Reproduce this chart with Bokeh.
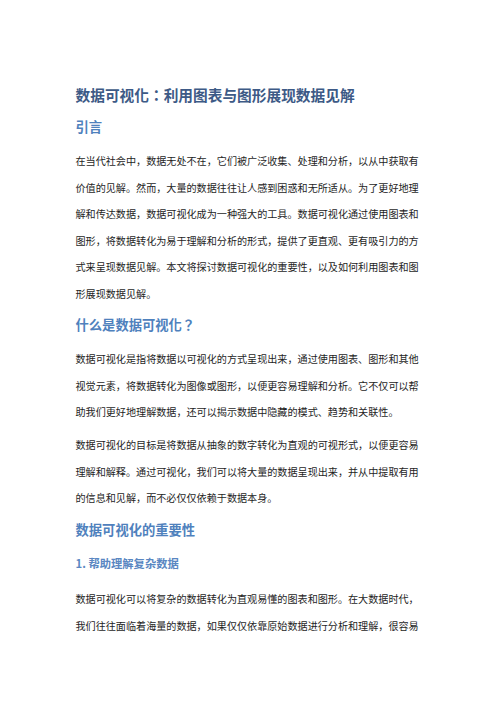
from bokeh.plotting import figure
from bokeh.models import ColumnDataSource
from bokeh.core.properties import value
from bokeh.embed import file_html
from bokeh.resources import INLINE

# ---- content ----
title_text = ["数据可视化：利用图表与图形展现数据见解"]
h1_texts = ["引言", "什么是数据可视化？", "数据可视化的重要性"]
h2_texts = ["1. 帮助理解复杂数据"]
para1 = [
    "在当代社会中，数据无处不在，它们被广泛收集、处理和分析，以从中获取有",
    "价值的见解。然而，大量的数据往往让人感到困惑和无所适从。为了更好地理",
    "解和传达数据，数据可视化成为一种强大的工具。数据可视化通过使用图表和",
    "图形，将数据转化为易于理解和分析的形式，提供了更直观、更有吸引力的方",
    "式来呈现数据见解。本文将探讨数据可视化的重要性，以及如何利用图表和图",
    "形展现数据见解。",
]
para2 = [
    "数据可视化是指将数据以可视化的方式呈现出来，通过使用图表、图形和其他",
    "视觉元素，将数据转化为图像或图形，以便更容易理解和分析。它不仅可以帮",
    "助我们更好地理解数据，还可以揭示数据中隐藏的模式、趋势和关联性。",
]
para3 = [
    "数据可视化的目标是将数据从抽象的数字转化为直观的可视形式，以便更容易",
    "理解和解释。通过可视化，我们可以将大量的数据呈现出来，并从中提取有用",
    "的信息和见解，而不必仅仅依赖于数据本身。",
]
para4 = [
    "数据可视化可以将复杂的数据转化为直观易懂的图表和图形。在大数据时代，",
    "我们往往面临着海量的数据，如果仅仅依靠原始数据进行分析和理解，很容易",
]

# ---- layout (pixel rows inside the figure) ----
W, H = 480, 686
LEFT = 75
LINE = 26.6
title_y = [94]
h1_y = [126, 324, 529]
h2_y = [562]
para_start = [160, 358, 444, 598]
paras = [para1, para2, para3, para4]

body_x, body_y, body_t = [], [], []
for start, lines in zip(para_start, paras):
    for i, t in enumerate(lines):
        body_x.append(LEFT)
        body_y.append(start + i * LINE)
        body_t.append(t)

p = figure(width=W, height=H, x_range=(0, W), y_range=(H, 0),
           output_backend="svg", toolbar_location=None, min_border=0,
           background_fill_color="white", border_fill_color="white")
p.axis.visible = False
p.grid.visible = False
p.outline_line_color = None

font = value("Noto Sans CJK SC")
font_c = value("Noto Sans CJK TC")  # centred full-width colon / question mark

p.text(x=[LEFT], y=title_y, text=title_text, text_font=font_c,
       text_font_size="14.7px", text_font_style="bold",
       text_color="#3d5a86", text_baseline="middle", text_align="left")

h1_fonts = [font, font_c, font]
for t, yy, f in zip(h1_texts, h1_y, h1_fonts):
    p.text(x=[LEFT], y=[yy], text=[t], text_font=f,
           text_font_size="13.3px", text_font_style="bold",
           text_color="#4f81bd", text_baseline="middle", text_align="left")

p.text(x=[LEFT] * len(h2_texts), y=h2_y, text=h2_texts, text_font=font,
       text_font_size="11.3px", text_font_style="bold",
       text_color="#5a87c2", text_baseline="middle", text_align="left")
src = ColumnDataSource(dict(x=body_x, y=body_y, text=body_t))
p.text(x="x", y="y", text="text", source=src, text_font=font,
       text_font_size="10.1px", text_color="#1e1e1e",
       text_baseline="middle", text_align="left")

open("out.html", "w").write(file_html(p, INLINE))
